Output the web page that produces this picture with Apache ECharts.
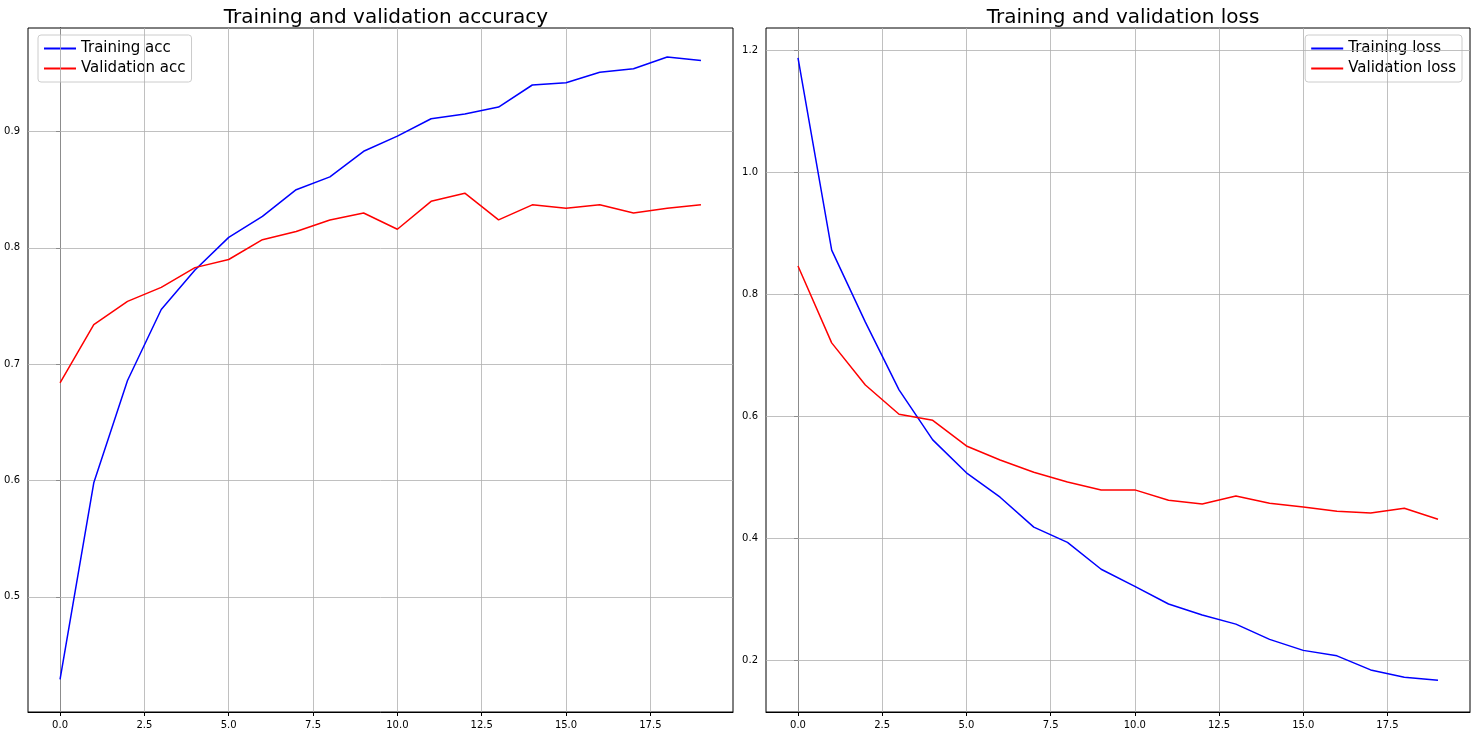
<!DOCTYPE html>
<html><head><meta charset="utf-8">
<script src="https://cdn.jsdelivr.net/npm/echarts@6/dist/echarts.min.js"></script>
<style>html,body{margin:0;padding:0;background:#fff}#c{width:1477px;height:736px}</style>
</head><body><div id="c"></div>
<script>
const epochs=[0,1,2,3,4,5,6,7,8,9,10,11,12,13,14,15,16,17,18,19];
const trainAcc=[0.429,0.598,0.686,0.747,0.781,0.809,0.827,0.850,0.861,0.883,0.896,0.911,0.915,0.921,0.940,0.942,0.951,0.954,0.964,0.961];
const valAcc=[0.684,0.734,0.754,0.766,0.783,0.790,0.807,0.814,0.824,0.830,0.816,0.840,0.847,0.824,0.837,0.834,0.837,0.830,0.834,0.837];
const trainLoss=[1.187,0.872,0.754,0.643,0.561,0.507,0.467,0.418,0.393,0.349,0.321,0.292,0.274,0.259,0.234,0.216,0.207,0.184,0.172,0.167];
const valLoss=[0.846,0.720,0.651,0.603,0.593,0.551,0.528,0.508,0.492,0.479,0.479,0.462,0.456,0.469,0.457,0.451,0.444,0.441,0.449,0.431];
const xTicks=[0,2.5,5,7.5,10,12.5,15,17.5];
const accTicks=[0.5,0.6,0.7,0.8,0.9];
const lossTicks=[0.2,0.4,0.6,0.8,1.0,1.2];
const font='DejaVu Sans';
const pair=a=>epochs.map((e,i)=>[e,a[i]]);
function xAxis(g){return {type:'value',gridIndex:g,min:-0.95,max:19.95,
 axisLine:{lineStyle:{color:'#000'}},axisTick:{customValues:xTicks,length:4,lineStyle:{color:'#000'}},
 axisLabel:{customValues:xTicks,formatter:v=>v.toFixed(1),color:'#000',fontSize:10,fontFamily:font},splitLine:{show:false}};}
function yAxis(g,min,max,t){return {type:'value',gridIndex:g,min:min,max:max,
 axisLine:{show:true,lineStyle:{color:'#000'}},axisTick:{show:true,customValues:t,length:4,lineStyle:{color:'#000'}},
 axisLabel:{customValues:t,formatter:v=>v.toFixed(1),color:'#000',fontSize:10,fontFamily:font},splitLine:{show:false}};}
function gridSeries(g,t){return {type:'line',xAxisIndex:g,yAxisIndex:g,data:[],silent:true,
 markLine:{silent:true,symbol:'none',label:{show:false},lineStyle:{color:'#b0b0b0',width:0.8,type:'solid'},
 data:xTicks.map(v=>({xAxis:v})).concat(t.map(v=>({yAxis:v})))}};}
function line(name,g,d,c){return {name:name,type:'line',xAxisIndex:g,yAxisIndex:g,data:pair(d),showSymbol:false,
 lineStyle:{color:c,width:1.5},itemStyle:{color:c},z:5};}
const legendBase={orient:'vertical',itemWidth:32,itemHeight:2,itemGap:5,padding:[6,6],borderColor:'#ccc',borderWidth:1,borderRadius:3,
 backgroundColor:'rgba(255,255,255,0.8)',textStyle:{fontSize:15,fontFamily:font,color:'#000'},icon:'rect'};
const chart=echarts.init(document.getElementById('c'));
chart.setOption({animation:false,
 title:[{text:'Training and validation accuracy',left:381,top:3,textAlign:'center',textStyle:{fontSize:20,fontWeight:'normal',fontFamily:font,color:'#000'}},
        {text:'Training and validation loss',left:1118,top:3,textAlign:'center',textStyle:{fontSize:20,fontWeight:'normal',fontFamily:font,color:'#000'}}],
 grid:[{left:28,right:744,top:28,bottom:24,show:true,borderColor:'#000',borderWidth:1},
       {left:766,right:7,top:28,bottom:24,show:true,borderColor:'#000',borderWidth:1}],
 xAxis:[xAxis(0),xAxis(1)],
 yAxis:[yAxis(0,0.401,0.989,accTicks),yAxis(1,0.115,1.236,lossTicks)],
 legend:[Object.assign({},legendBase,{data:['Training acc','Validation acc'],left:38,top:35}),
         Object.assign({},legendBase,{data:['Training loss','Validation loss'],right:15,top:35})],
 series:[gridSeries(0,accTicks),gridSeries(1,lossTicks),
  line('Training acc',0,trainAcc,'#0000ff'),line('Validation acc',0,valAcc,'#ff0000'),
  line('Training loss',1,trainLoss,'#0000ff'),line('Validation loss',1,valLoss,'#ff0000')]
});
</script></body></html>
